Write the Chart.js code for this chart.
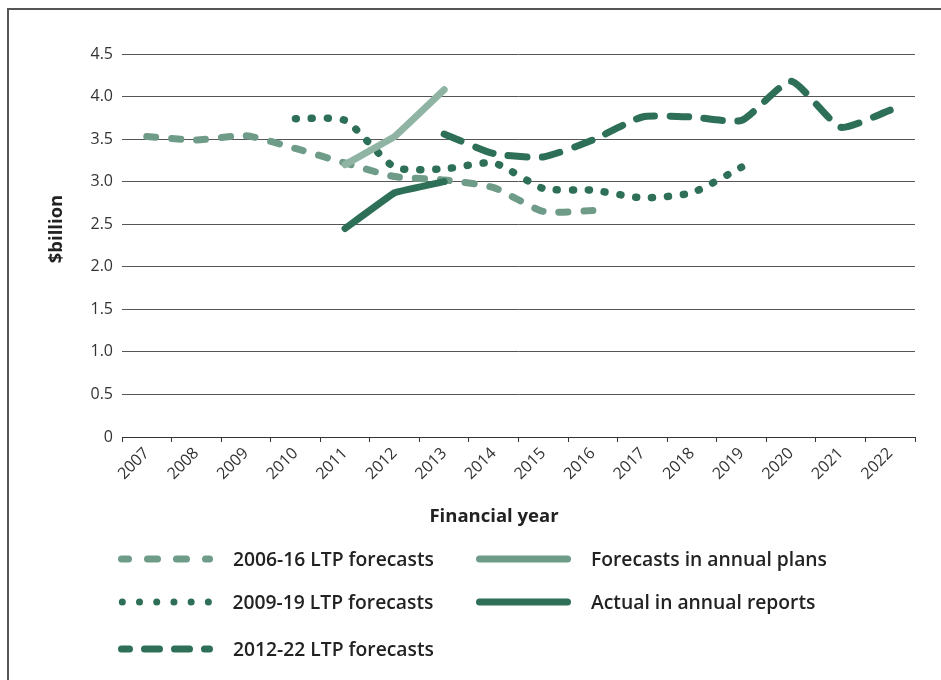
<!DOCTYPE html>
<html>
<head>
<meta charset="utf-8">
<script src="https://cdn.jsdelivr.net/npm/chart.js@4/dist/chart.umd.min.js"></script>
<style>
  html, body { margin: 0; padding: 0; background: #fff; }
  #wrap { position: relative; width: 941px; height: 680px; overflow: hidden; font-family: "Open Sans", "Noto Sans", sans-serif; }
  #frame { position: absolute; left: 7px; top: 8px; width: 940px; height: 680px; border-left: 2px solid #555; border-top: 2px solid #555; box-sizing: border-box; }
  #c { position: absolute; left: 0; top: 0; }
  .lg { position: absolute; left: 0; top: 0; }
  .lgtext { position: absolute; white-space: nowrap; font-size: 19.3px; font-weight: 600; color: #222; line-height: 26px; }
  .atitle { position: absolute; white-space: nowrap; font-size: 18.5px; font-weight: 700; color: #222; line-height: 24px; }
</style>
</head>
<body>
<div id="wrap">
  <div id="frame"></div>
  <canvas id="c" width="941" height="680"></canvas>
  <div class="atitle" id="xtitle" style="left:494px; top:515px; transform: translate(-50%,-50%);">Financial year</div>
  <div class="atitle" id="ytitle" style="left:55px; top:229px; transform: translate(-50%,-50%) rotate(-90deg);">$billion</div>
  <svg class="lg" id="lgsvg" width="941" height="680"></svg>
  <div id="legend"></div>
</div>
<script>
// ---- data ----
const years = ['2007','2008','2009','2010','2011','2012','2013','2014','2015','2016','2017','2018','2019','2020','2021','2022'];
const ltp2006 = [3.53, 3.49, 3.54, 3.39, 3.22, 3.06, 3.02, 2.93, 2.65, 2.66, null, null, null, null, null, null];
const ltp2009 = [null, null, null, 3.74, 3.72, 3.17, 3.15, 3.22, 2.92, 2.90, 2.81, 2.87, 3.17, null, null, null];
const ltp2012 = [null, null, null, null, null, null, 3.56, 3.33, 3.29, 3.49, 3.76, 3.76, 3.72, 4.18, 3.64, 3.84];
const annualPlans = [null, null, null, null, 3.20, 3.53, 4.08, null, null, null, null, null, null, null, null, null];
const annualReports = [null, null, null, null, 2.45, 2.87, 3.00, null, null, null, null, null, null, null, null, null];
const seriesNames = ['2006-16 LTP forecasts', '2009-19 LTP forecasts', '2012-22 LTP forecasts', 'Forecasts in annual plans', 'Actual in annual reports'];
const yTicks = [0, 0.5, 1.0, 1.5, 2.0, 2.5, 3.0, 3.5, 4.0, 4.5];

const LIGHT = '#6f9c89';
const LIGHT_SOLID = '#8fb4a3';
const DARK = '#2e6f57';

const W = 7;
const fontFam = '"Open Sans", "Noto Sans", sans-serif';

const datasets = [
  { label: seriesNames[4], data: annualReports, borderColor: DARK, borderWidth: W, borderDash: [], order: 0, tension: 0.05 },
  { label: seriesNames[3], data: annualPlans, borderColor: LIGHT_SOLID, borderWidth: W, borderDash: [], order: 1, tension: 0.05 },
  { label: seriesNames[0], data: ltp2006, borderColor: LIGHT, borderWidth: W, borderDash: [9, 16], order: 4, tension: 0.2 },
  { label: seriesNames[1], data: ltp2009, borderColor: DARK, borderWidth: 7.5, borderDash: [1, 15], order: 3, tension: 0.2 },
  { label: seriesNames[2], data: ltp2012, borderColor: DARK, borderWidth: W, borderDash: [18, 15], order: 2, tension: 0.18 }
].map(d => Object.assign({
  pointRadius: 0, pointHoverRadius: 0, fill: false,
  borderCapStyle: 'round', borderJoinStyle: 'round', spanGaps: false
}, d));

// Stretch each dash pattern slightly so that a dash falls on both ends of the line
const fitDash = {
  id: 'fitDash',
  afterRender(chart) {
    if (chart.$dashFitted) return;
    chart.$dashFitted = true;
    chart.data.datasets.forEach((ds, i) => {
      if (!ds.borderDash || ds.borderDash.length < 2) return;
      const pts = chart.getDatasetMeta(i).data.filter(p => !p.skip);
      let L = 0;
      for (let j = 0; j < pts.length - 1; j++) {
        const p0 = pts[j], p1 = pts[j + 1];
        const c1x = p0.cp2x ?? p0.x, c1y = p0.cp2y ?? p0.y;
        const c2x = p1.cp1x ?? p1.x, c2y = p1.cp1y ?? p1.y;
        let px = p0.x, py = p0.y;
        const N = 60;
        for (let s = 1; s <= N; s++) {
          const t = s / N, u = 1 - t;
          const x = u*u*u*p0.x + 3*u*u*t*c1x + 3*u*t*t*c2x + t*t*t*p1.x;
          const y = u*u*u*p0.y + 3*u*u*t*c1y + 3*u*t*t*c2y + t*t*t*p1.y;
          L += Math.hypot(x - px, y - py);
          px = x; py = y;
        }
      }
      const a = ds.borderDash[0], b = ds.borderDash[1];
      const n = Math.max(1, Math.round((L - a) / (a + b)));
      const k = L / (n * (a + b) + a);
      ds.borderDash = [a * k, b * k];
    });
    chart.update('none');
  }
};

new Chart(document.getElementById('c'), {
  type: 'line',
  data: { labels: years, datasets },
  plugins: [fitDash],
  options: {
    responsive: false,
    animation: false,
    events: [],
    layout: { padding: { left: 44.2, top: 54, right: 26, bottom: 154.2 } },
    plugins: { legend: { display: false }, tooltip: { enabled: false }, title: { display: false } },
    scales: {
      x: {
        type: 'category',
        offset: true,
        grid: { offset: true, drawOnChartArea: false, drawTicks: true, tickLength: 5, color: '#333', lineWidth: 1 },
        border: { display: true, color: '#333', width: 1 },
        ticks: { color: '#333', font: { family: fontFam, size: 16 }, maxRotation: 45, minRotation: 45, padding: 2, autoSkip: false },
        title: { display: false },
        afterFit: (s) => { s.height = 88.8; }
      },
      y: {
        min: 0, max: 4.5,
        afterBuildTicks: (s) => { s.ticks = yTicks.map(v => ({ value: v })); },
        grid: { drawTicks: false, color: '#555', lineWidth: 1 },
        border: { display: false },
        ticks: { color: '#333', padding: 9, font: { family: fontFam, size: 16 },
                 callback: (v) => v === 0 ? '0' : Number(v).toFixed(1) },
        title: { display: false },
        afterFit: (s) => { s.width = 77.8; }
      }
    }
  }
});

// ---- HTML legend ----
const legendItems = [
  { name: seriesNames[0], color: LIGHT, dash: '10 19', off: 3, x1: 121.5, x2: 209.5, y: 559 },
  { name: seriesNames[3], color: LIGHT, dash: '', off: 0, x1: 479.5, x2: 567.5, y: 559 },
  { name: seriesNames[1], color: DARK, dash: '0.01 17.2', off: 0, x1: 122.3, x2: 209, y: 602 },
  { name: seriesNames[4], color: DARK, dash: '', off: 0, x1: 479.5, x2: 567.5, y: 602 },
  { name: seriesNames[2], color: DARK, dash: '15 15', off: 7, x1: 121.5, x2: 209.5, y: 649 }
];
const svg = document.getElementById('lgsvg');
const lg = document.getElementById('legend');
let svgHtml = '';
legendItems.forEach(it => {
  svgHtml += '<line x1="' + it.x1 + '" y1="' + it.y + '" x2="' + it.x2 + '" y2="' + it.y + '" stroke="' + it.color +
    '" stroke-width="7" stroke-linecap="round"' + (it.dash ? ' stroke-dasharray="' + it.dash + '" stroke-dashoffset="' + it.off + '"' : '') + '/>';
  const t = document.createElement('div');
  t.className = 'lgtext';
  t.textContent = it.name;
  t.style.left = (it.x2 + 23.5) + 'px';
  t.style.top = (it.y - 13) + 'px';
  lg.appendChild(t);
});
svg.innerHTML = svgHtml;
</script>
</body>
</html>
